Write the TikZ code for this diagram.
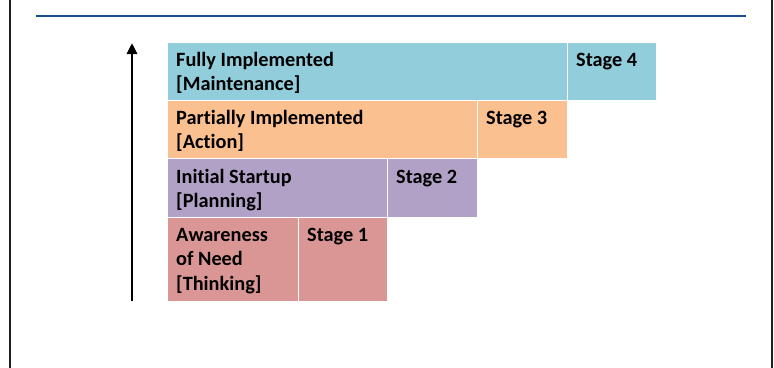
\documentclass[tikz,border=0pt]{standalone}
\usepackage{fontspec}
\setmainfont[Ligatures=NoCommon]{Carlito}
\usetikzlibrary{arrows.meta}

\definecolor{ruleblue}{RGB}{24,76,140}
\definecolor{framegray}{RGB}{30,30,30}
\definecolor{cellblue}{RGB}{146,205,220}
\definecolor{cellorange}{RGB}{250,192,144}
\definecolor{cellpurple}{RGB}{178,161,199}
\definecolor{cellred}{RGB}{217,150,148}

\tikzset{
  cell/.style={draw=white, line width=0.9pt, inner sep=0pt, anchor=north west},
  label/.style={anchor=base west, inner sep=0pt, text=black,
    font=\bfseries\fontsize{20.3}{24.5}\selectfont},
  frameline/.style={draw=framegray, line width=2.2pt},
}
\newcommand{\celltext}[1]{\parbox[t]{220pt}{\raggedright #1}}

\begin{document}
\begin{tikzpicture}[x=1pt, y=-1pt]
  \useasboundingbox (0,0) rectangle (774,367);

  % page frame and heading rule
  \draw[frameline] (10,-2) -- (10,369);
  \draw[frameline] (772,-2) -- (772,369);
  \draw[ruleblue, line width=2.6pt] (36,16) -- (746,16);

  % stage cells, bottom row first
  \node[cell, fill=cellred, minimum width=131pt, minimum height=84pt] (c1a) at (167,217) {};
  \node[cell, fill=cellred, minimum width=89pt, minimum height=84pt] (c1b) at (298,217) {};
  \node[cell, fill=cellpurple, minimum width=220pt, minimum height=59pt] (c2a) at (167,158) {};
  \node[cell, fill=cellpurple, minimum width=90pt, minimum height=59pt] (c2b) at (387,158) {};
  \node[cell, fill=cellorange, minimum width=310pt, minimum height=58pt] (c3a) at (167,100) {};
  \node[cell, fill=cellorange, minimum width=90pt, minimum height=58pt] (c3b) at (477,100) {};
  \node[cell, fill=cellblue, minimum width=400pt, minimum height=58pt] (c4a) at (167,42) {};
  \node[cell, fill=cellblue, minimum width=89pt, minimum height=58pt] (c4b) at (567,42) {};

  % cell labels
  \node[label] (t4a) at (176,66) {\celltext{Fully Implemented\\{}[Maintenance]}};
  \node[label] (t4b) at (576,66) {Stage 4};
  \node[label] (t3a) at (176,124) {\celltext{Partially Implemented\\{}[Action]}};
  \node[label] (t3b) at (486,124) {Stage 3};
  \node[label] (t2a) at (176,183) {\celltext{Initial Startup\\{}[Planning]}};
  \node[label] (t2b) at (396,183) {Stage 2};
  \node[label] (t1a) at (176,241) {\celltext{Awareness\\of Need\\{}[Thinking]}};
  \node[label] (t1b) at (307,241) {Stage 1};

  % progression arrow
  \coordinate (arrbot) at (132,301);
  \coordinate (arrtop) at (132,43);
  \draw[line width=2.8pt, -{Triangle[width=10pt, length=11pt]}] (arrbot) -- (arrtop);
\end{tikzpicture}
\end{document}
